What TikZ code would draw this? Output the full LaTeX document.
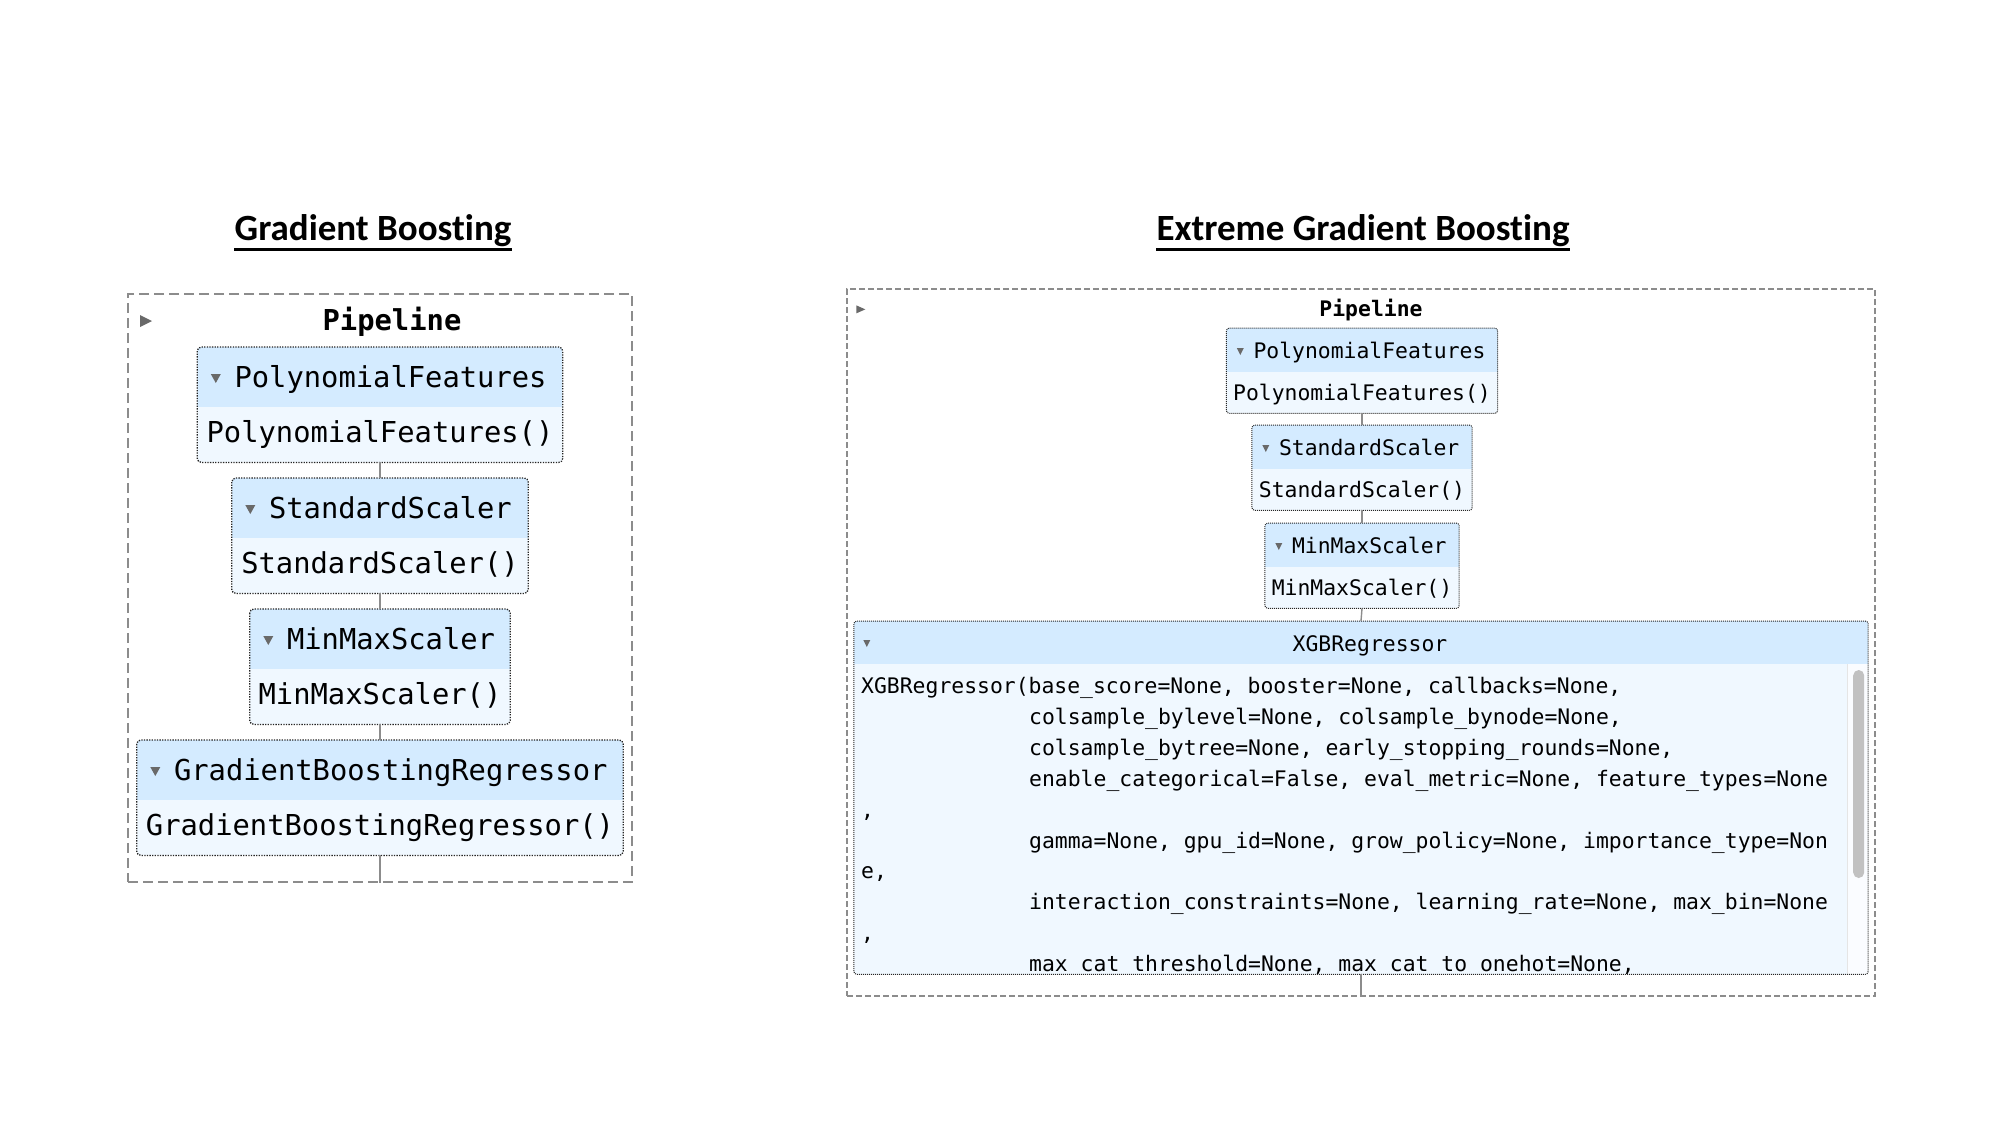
\documentclass[tikz,border=0pt]{standalone}
\usepackage{fontspec}
\newfontfamily\codefont{DejaVu Sans Mono}
\newfontfamily\titlefont{Carlito}[Ligatures=NoCommon]
\usepackage{xcolor}
\definecolor{blueH}{HTML}{D4EBFF}
\definecolor{blueB}{HTML}{F0F8FF}
\definecolor{iconG}{HTML}{696969}
\definecolor{lineG}{HTML}{8C8C8C}
\definecolor{barG}{HTML}{C1C1C1}
\usetikzlibrary{positioning,calc}

\begin{document}
\begin{tikzpicture}[x=1pt, y=-1pt,
    pipe/.style={draw=lineG, line width=2pt, dash pattern=on 10pt off 5pt, inner sep=0},
    pipeR/.style={pipe, line width=1.3pt, dash pattern=on 6pt off 3pt},
    est/.style={fill=blueB, rounded corners=4pt, inner sep=0},
    estline/.style={draw=black!85, line width=1.3pt, dash pattern=on 1.3pt off 1.3pt, rounded corners=4pt},
    estlineR/.style={estline, line width=1pt, dash pattern=on 1pt off 1pt, rounded corners=3pt},
    tri/.style={fill=iconG},
    link/.style={draw=lineG, line width=2pt},
    linkR/.style={link, line width=1.4pt},
    txtL/.style={font=\codefont\fontsize{28.8}{34}\selectfont, inner sep=0},
    txtR/.style={font=\codefont\fontsize{21.4}{26}\selectfont, inner sep=0},
    heading/.style={font=\titlefont\bfseries\fontsize{37}{44}\selectfont, inner sep=0}]
  \useasboundingbox (0,0) rectangle (2000,1125);

  % titles
  \node[heading, anchor=base] (gbT) at (373,240) {Gradient Boosting};
  \draw[line width=2.5pt] ([yshift=-9.5pt]gbT.base west) -- ([yshift=-9.5pt]gbT.base east);
  \node[heading, anchor=base] (xgbT) at (1363,240) {Extreme Gradient Boosting};
  \draw[line width=2.5pt] ([yshift=-9.5pt]xgbT.base west) -- ([yshift=-9.5pt]xgbT.base east);

  % left pipeline
  \node[pipe, minimum width=504, minimum height=588] (pipeL) at (380,588) {};
  \fill[tri] ([xshift=13pt, yshift=-22pt]pipeL.north west) -- ++(12,6) -- ++(-12,6) -- cycle;
  \node[txtL, anchor=base] (pipeL-t) at (392,330) {\bfseries Pipeline};
  \foreach \nm/\y/\w/\lbl in {pfL/347/365/PolynomialFeatures, ssL/478/296/StandardScaler,
      mmL/609/260/MinMaxScaler, gbL/740/486/GradientBoostingRegressor}{
    \node[est, minimum width=\w, minimum height=115, anchor=north] (\nm) at (380,\y) {};
    \begin{scope}
      \clip[rounded corners=4pt] (\nm.north west) rectangle (\nm.south east);
      \fill[blueH] (\nm.north west) rectangle ([yshift=-60pt]\nm.north east);
    \end{scope}
    \draw[estline] (\nm.north west) rectangle (\nm.south east);
    \fill[tri] ([xshift=13.5pt, yshift=-27pt]\nm.north west) -- ++(10,0) -- ++(-5,9) -- cycle;
    \node[txtL, anchor=base west] (\nm-h) at ([xshift=37pt, yshift=-40pt]\nm.north west) {\lbl};
    \node[txtL, anchor=base] (\nm-b) at ([yshift=-95pt]\nm.north) {\lbl()};
  }
  \foreach \a/\b in {pfL/ssL, ssL/mmL, mmL/gbL}
    \draw[link] (\a.south) -- (\b.north);
  \draw[link] (gbL.south) -- (gbL.south |- pipeL.south);

  % right pipeline
  \node[pipeR, minimum width=1028, minimum height=707] (pipeR) at (1361,642.5) {};
  \fill[tri] ([xshift=10pt, yshift=-17pt]pipeR.north west) -- ++(9,4) -- ++(-9,4) -- cycle;
  \node[txtR, anchor=base] (pipeR-t) at (1371,316) {\bfseries Pipeline};
  \foreach \nm/\y/\w/\lbl in {pfR/328/271/PolynomialFeatures, ssR/425/220/StandardScaler,
      mmR/523/194/MinMaxScaler}{
    \node[est, rounded corners=3pt, minimum width=\w, minimum height=85, anchor=north] (\nm) at (1362,\y) {};
    \begin{scope}
      \clip[rounded corners=3pt] (\nm.north west) rectangle (\nm.south east);
      \fill[blueH] (\nm.north west) rectangle ([yshift=-44pt]\nm.north east);
    \end{scope}
    \draw[estlineR] (\nm.north west) rectangle (\nm.south east);
    \fill[tri] ([xshift=10.5pt, yshift=-20pt]\nm.north west) -- ++(7,0) -- ++(-3.5,7) -- cycle;
    \node[txtR, anchor=base west] (\nm-h) at ([xshift=27pt, yshift=-30pt]\nm.north west) {\lbl};
    \node[txtR, anchor=base] (\nm-b) at ([yshift=-72pt]\nm.north) {\lbl()};
  }

  % regressor with scrolled parameters
  \node[est, rounded corners=3pt, minimum width=1014, minimum height=353, anchor=north] (xgbR) at (1361,621) {};
  \begin{scope}
    \clip[rounded corners=3pt] (xgbR.north west) rectangle (xgbR.south east);
    \fill[blueH] (xgbR.north west) rectangle ([yshift=-43pt]xgbR.north east);
    \fill[white!65!blueB] ([xshift=-21pt, yshift=-43pt]xgbR.north east) rectangle (xgbR.south east);
    \draw[black!10, line width=1pt] ([xshift=-21pt, yshift=-43pt]xgbR.north east) -- ([xshift=-21pt]xgbR.south east);
    \fill[barG, rounded corners=5.5pt] ([xshift=-15pt, yshift=-49pt]xgbR.north east)
      rectangle ([xshift=-4pt, yshift=-257pt]xgbR.north east);
    \foreach \i/\x/\txt in {
      0/861/{XGBRegressor(base\_score=None, booster=None, callbacks=None,},
      1/1029/{colsample\_bylevel=None, colsample\_bynode=None,},
      2/1029/{colsample\_bytree=None, early\_stopping\_rounds=None,},
      3/1029/{enable\_categorical=False, eval\_metric=None, feature\_types=None},
      4/861/{,},
      5/1029/{gamma=None, gpu\_id=None, grow\_policy=None, importance\_type=Non},
      6/861/{e,},
      7/1029/{interaction\_constraints=None, learning\_rate=None, max\_bin=None},
      8/861/{,},
      9/1029/{max\_cat\_threshold=None, max\_cat\_to\_onehot=None,}%
    }{
      \node[txtR, anchor=base west] (xl\i) at (\x,{693.5+\i*30.9}) {\txt};
    }
  \end{scope}
  \draw[estlineR] (xgbR.north west) rectangle (xgbR.south east);
  \fill[tri] ([xshift=9.5pt, yshift=-19pt]xgbR.north west) -- ++(7,0) -- ++(-3.5,7) -- cycle;
  \node[txtR, anchor=base] (xgbR-h) at (1370,651) {XGBRegressor};

  \foreach \a/\b in {pfR/ssR, ssR/mmR, mmR/xgbR}
    \draw[linkR] (\a.south) -- (\b.north);
  \draw[linkR] (xgbR.south) -- (xgbR.south |- pipeR.south);
\end{tikzpicture}
\end{document}
